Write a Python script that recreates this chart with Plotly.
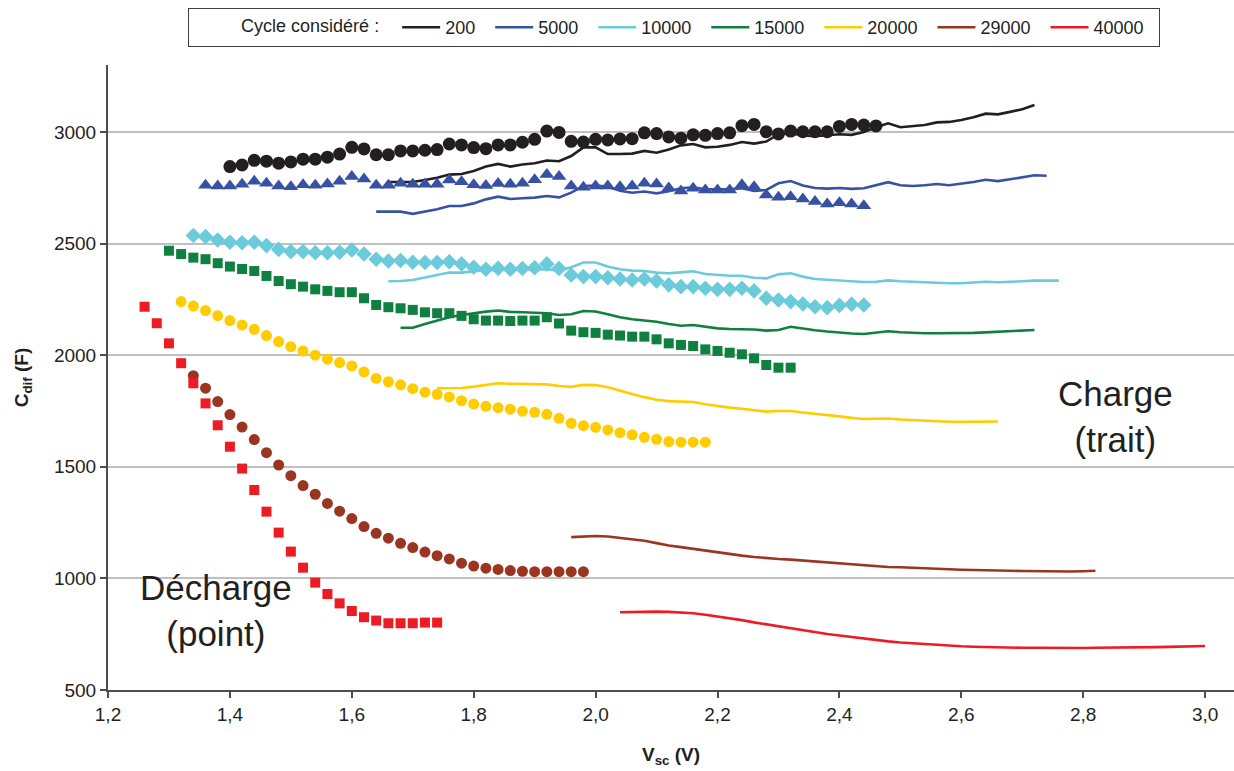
import plotly.graph_objects as go

# ---------------- data (C_dif in F, sampled every 0.02 V) ----------------
cycles = ["200", "5000", "10000", "15000", "20000", "29000", "40000"]
colors = ["#231f20", "#3852a3", "#6ccbdb", "#0f8040", "#ffcc00", "#9a3521", "#ed1c24"]
STEP = 0.02

# discharge (points): start voltage + values
dech_start = [1.40, 1.36, 1.34, 1.30, 1.32, 1.34, 1.26]
dech_200 = [2845, 2852, 2873, 2869, 2860, 2866, 2878, 2878, 2887, 2901, 2931, 2924, 2898, 2898,
            2915, 2915, 2918, 2921, 2946, 2942, 2930, 2925, 2942, 2942, 2954, 2967, 3004, 2998,
            2958, 2955, 2967, 2964, 2969, 2970, 2996, 2993, 2978, 2972, 2987, 2985, 2993, 2996,
            3028, 3034, 3001, 2991, 3004, 3001, 3001, 3001, 3025, 3034, 3031, 3027]
dech_5000 = [2761, 2758, 2758, 2766, 2779, 2770, 2758, 2755, 2764, 2761, 2767, 2779, 2800, 2789,
             2761, 2761, 2770, 2766, 2766, 2766, 2785, 2777, 2763, 2760, 2769, 2766, 2770, 2786,
             2810, 2800, 2758, 2752, 2758, 2758, 2755, 2758, 2770, 2767, 2749, 2736, 2748, 2740,
             2740, 2740, 2763, 2755, 2718, 2707, 2710, 2700, 2688, 2677, 2683, 2677, 2670]
dech_10000 = [2536, 2531, 2516, 2506, 2504, 2506, 2491, 2474, 2464, 2464, 2459, 2459, 2461, 2471,
              2453, 2430, 2422, 2424, 2416, 2415, 2415, 2419, 2409, 2394, 2385, 2389, 2385, 2388,
              2392, 2409, 2388, 2359, 2352, 2352, 2347, 2341, 2337, 2341, 2332, 2315, 2307, 2307,
              2300, 2295, 2295, 2300, 2288, 2255, 2247, 2240, 2229, 2217, 2213, 2223, 2228, 2225]
dech_15000 = [2468, 2453, 2437, 2430, 2412, 2397, 2386, 2377, 2355, 2332, 2318, 2307, 2295, 2288,
              2282, 2282, 2255, 2225, 2215, 2210, 2203, 2192, 2188, 2188, 2176, 2161, 2155, 2155,
              2153, 2155, 2155, 2170, 2142, 2110, 2103, 2100, 2092, 2088, 2083, 2083, 2071, 2053,
              2046, 2041, 2026, 2019, 2011, 2004, 1986, 1956, 1944, 1944]
dech_20000 = [2240, 2220, 2200, 2177, 2155, 2135, 2116, 2088, 2061, 2038, 2019, 2000, 1982, 1967,
              1952, 1925, 1896, 1881, 1867, 1850, 1834, 1825, 1813, 1796, 1781, 1771, 1765, 1758,
              1749, 1744, 1735, 1717, 1695, 1684, 1677, 1665, 1653, 1643, 1632, 1623, 1613, 1610,
              1610, 1610]
dech_29000 = [1908, 1852, 1792, 1734, 1678, 1622, 1563, 1508, 1460, 1416, 1377, 1336, 1301, 1268,
              1232, 1202, 1180, 1157, 1138, 1118, 1102, 1087, 1068, 1055, 1046, 1040, 1035, 1032,
              1030, 1030, 1030, 1030, 1030]
dech_40000 = [2217, 2143, 2053, 1964, 1874, 1784, 1686, 1590, 1492, 1396, 1299, 1205, 1120, 1048,
              981, 930, 888, 854, 826, 811, 799, 799, 799, 802, 802]

# charge (lines): start voltage + values
ch_start = [1.66, 1.64, 1.66, 1.68, 1.74, 1.96, 2.04]
ch_200 = [2776, 2776, 2776, 2785, 2795, 2809, 2812, 2825, 2845, 2857, 2845, 2854, 2860, 2872,
          2869, 2892, 2931, 2931, 2901, 2901, 2903, 2915, 2907, 2922, 2940, 2946, 2931, 2934,
          2942, 2955, 2948, 2957, 2990, 2994, 2984, 2981, 2984, 2990, 2987, 3000, 3021, 3039,
          3021, 3025, 3031, 3043, 3045, 3054, 3066, 3082, 3079, 3090, 3102, 3121]
ch_5000 = [2643, 2643, 2643, 2633, 2643, 2654, 2668, 2668, 2680, 2698, 2710, 2700, 2703, 2706,
           2713, 2707, 2728, 2758, 2760, 2755, 2737, 2728, 2733, 2725, 2734, 2748, 2752, 2743,
           2743, 2743, 2748, 2736, 2740, 2770, 2780, 2760, 2749, 2746, 2749, 2745, 2748, 2763,
           2775, 2761, 2758, 2761, 2767, 2761, 2767, 2776, 2786, 2780, 2788, 2797, 2806, 2804]
ch_10000 = [2331, 2332, 2337, 2347, 2358, 2370, 2370, 2376, 2382, 2382, 2382, 2385, 2385, 2385,
            2379, 2394, 2415, 2415, 2397, 2385, 2379, 2377, 2370, 2367, 2371, 2376, 2364, 2359,
            2356, 2356, 2347, 2344, 2362, 2367, 2352, 2341, 2337, 2335, 2331, 2328, 2329, 2335,
            2331, 2328, 2327, 2325, 2322, 2322, 2325, 2329, 2327, 2328, 2331, 2334, 2334, 2334]
ch_15000 = [2123, 2123, 2140, 2155, 2170, 2180, 2188, 2195, 2200, 2194, 2192, 2191, 2188, 2180,
            2183, 2198, 2196, 2183, 2170, 2161, 2155, 2150, 2140, 2132, 2135, 2128, 2120, 2117,
            2116, 2115, 2110, 2113, 2127, 2118, 2112, 2106, 2100, 2097, 2095, 2100, 2107, 2103,
            2100, 2098, 2098, 2098, 2099, 2100, 2102, 2104, 2106, 2109, 2113]
ch_20000 = [1852, 1852, 1853, 1859, 1867, 1874, 1872, 1871, 1869, 1869, 1862, 1858, 1867, 1866,
            1856, 1840, 1826, 1812, 1800, 1794, 1792, 1790, 1780, 1771, 1765, 1760, 1752, 1747,
            1750, 1750, 1743, 1738, 1731, 1726, 1719, 1714, 1715, 1716, 1712, 1709, 1706, 1704,
            1702, 1701, 1701, 1701, 1703]
ch_29000 = [1185, 1188, 1190, 1188, 1182, 1176, 1169, 1158, 1147, 1140, 1132, 1124, 1117, 1109,
            1102, 1096, 1090, 1087, 1084, 1080, 1075, 1071, 1066, 1061, 1057, 1054, 1051, 1050,
            1047, 1045, 1043, 1041, 1039, 1037, 1036, 1035, 1034, 1033, 1032, 1032, 1031, 1031,
            1032, 1034]
ch_40000 = [848, 850, 851, 851, 850, 847, 844, 837, 830, 822, 813, 803, 794, 784, 775, 767, 759,
            751, 744, 737, 730, 724, 718, 713, 709, 705, 702, 699, 696, 694, 692, 691, 690, 689,
            689, 688, 688, 688, 688, 689, 689, 690, 690, 691, 692, 693, 694, 695, 697]

dech = [dech_200, dech_5000, dech_10000, dech_15000, dech_20000, dech_29000, dech_40000]
charge = [ch_200, ch_5000, ch_10000, ch_15000, ch_20000, ch_29000, ch_40000]
symbols = ["circle", "triangle-up", "diamond", "square", "circle", "circle", "square"]
msizes = [13, 13, 12, 10, 11, 11, 10]

x_ticks = [1.2, 1.4, 1.6, 1.8, 2.0, 2.2, 2.4, 2.6, 2.8, 3.0]
x_labels = ["1,2", "1,4", "1,6", "1,8", "2,0", "2,2", "2,4", "2,6", "2,8", "3,0"]
y_ticks = [500, 1000, 1500, 2000, 2500, 3000]


def volts(start, n):
    return [round(start + STEP * i, 2) for i in range(n)]


NB = "\u00a0"
fig = go.Figure()
for name, col, st, vals in zip(cycles, colors, ch_start, charge):
    fig.add_trace(go.Scatter(x=volts(st, len(vals)), y=vals, mode="lines", name=name + NB * 2,
                             line=dict(color=col, width=2.6), showlegend=True))
for name, col, st, vals, sym, ms in zip(cycles, colors, dech_start, dech, symbols, msizes):
    fig.add_trace(go.Scatter(x=volts(st, len(vals)), y=vals, mode="markers", name=name,
                             marker=dict(color=col, symbol=sym, size=ms, line=dict(width=0)),
                             showlegend=False))

FONT = "Liberation Sans, Arial, sans-serif"

fig.update_layout(
    width=1234, height=771,
    margin=dict(l=108, r=0, t=65, b=81),
    paper_bgcolor="white", plot_bgcolor="white",
    font=dict(family=FONT, color="#231f20"),
    showlegend=True,
    legend=dict(
        orientation="h", x=0.0711, xanchor="left", y=1.0912, yanchor="top",
        bordercolor="#404040", borderwidth=1, bgcolor="white",
        font=dict(family=FONT, size=18, color="#231f20"),
        title=dict(text=NB * 10 + "Cycle considéré :" + NB * 2,
                   font=dict(family=FONT, size=18, color="#231f20")),
        itemwidth=38,
        traceorder="normal",
    ),
    xaxis=dict(
        range=[1.2, 3.0474], tickvals=x_ticks, ticktext=x_labels,
        showgrid=False, zeroline=False,
        showline=True, linecolor="#4d4d4d", linewidth=2,
        ticks="outside", ticklen=6, tickcolor="#4d4d4d", tickwidth=1.5,
        tickfont=dict(family=FONT, size=19, color="#231f20"),
        title=dict(text="<b>V<sub>sc</sub> (V)</b>", font=dict(family=FONT, size=19, color="#231f20"),
                   standoff=24),
    ),
    yaxis=dict(
        range=[500, 3300], tickvals=y_ticks,
        showgrid=True, gridcolor="#c0c0c0", gridwidth=1.6,
        zeroline=False,
        showline=True, linecolor="#4d4d4d", linewidth=2,
        ticks="outside", ticklen=6, tickcolor="#4d4d4d", tickwidth=1.5,
        tickfont=dict(family=FONT, size=19, color="#231f20"),
        title=dict(text="<b>C<sub>dif</sub> (F)</b>", font=dict(family=FONT, size=19, color="#231f20"),
                   standoff=20),
    ),
    annotations=[
        dict(text="Décharge<br>(point)", x=0.096, y=0.128, xref="paper", yref="paper",
             xanchor="center", yanchor="middle",
             showarrow=False, font=dict(family=FONT, size=35, color="#231f20"), align="center"),
        dict(text="Charge<br>(trait)", x=0.895, y=0.438, xref="paper", yref="paper",
             xanchor="center", yanchor="middle",
             showarrow=False, font=dict(family=FONT, size=35, color="#231f20"), align="center"),
    ],
)

fig.write_html("out.html", config={"displayModeBar": False},
               post_script="document.body.style.margin='0px';")
